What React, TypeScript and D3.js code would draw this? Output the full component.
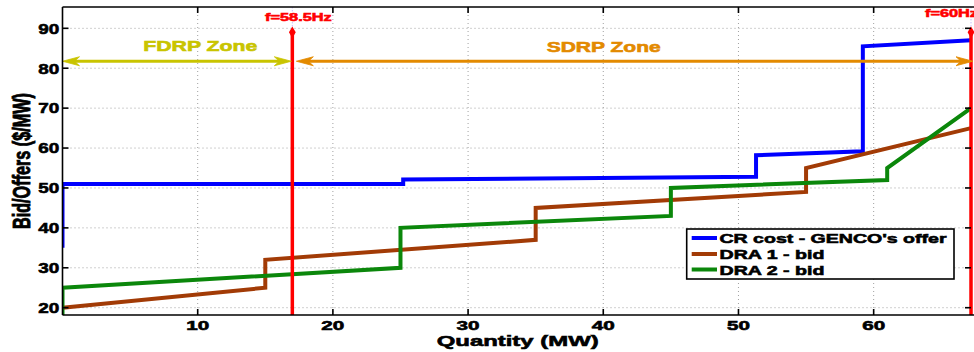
import React from "react";
import * as d3 from "d3";

// Supply / demand bid curves (quantity in MW, price in $/MW)
const crQty = [0, 0, 25.2, 25.2, 51.3, 51.3, 59.2, 59.2, 67.2];
const crPrice = [35, 51, 51, 52.1, 52.8, 58.2, 59.2, 85.5, 87];
const dra1Qty = [0, 15, 15, 35, 35, 55, 55, 67.2];
const dra1Price = [20, 25, 32, 37, 45, 49, 55, 65];
const dra2Qty = [0, 0, 25, 25, 45, 45, 61, 61, 67.2];
const dra2Price = [18.2, 25, 30, 40, 43, 50, 52, 55, 70];

const xTicks = [10, 20, 30, 40, 50, 60];
const yTicks = [20, 30, 40, 50, 60, 70, 80, 90];
const xDomain = [0, 67.2];
const yDomain = [18.17, 95.34];

// Frequency markers and response zones
const freqQty = [17, 67.2];
const freqLabels = ["f=58.5Hz", "f=60Hz"];
const freqTop = 89;
const zoneLevel = 81.75;

const seriesNames = ["CR cost - GENCO's offer", "DRA 1 - bid", "DRA 2 - bid"];
const seriesColors = ["#0000ff", "#a23b06", "#0b870b"];

const W = 974;
const H = 352;
const left = 62.5;
const right = 971;
const top = 7;
const bottom = 315;

const FONT = "'Liberation Sans', Arial, sans-serif";

function arrowHead(tipX: number, tipY: number, dir: number, color: string, key: string) {
  // MATLAB-style "vback2" head: pointed tip with a notched back
  const len = 17;
  const half = 4.5;
  const notch = 5;
  const bx = tipX - dir * len;
  const nx = tipX - dir * (len - notch);
  const d = `M${tipX},${tipY} L${bx},${tipY - half} L${nx},${tipY} L${bx},${tipY + half} Z`;
  return <path key={key} d={d} fill={color} stroke={color} strokeWidth={0.8} />;
}

export default function App() {
  const x = d3.scaleLinear().domain(xDomain).range([left, right]);
  const y = d3.scaleLinear().domain(yDomain).range([bottom, top]);

  const line = d3
    .line<[number, number]>()
    .x((d) => x(d[0]))
    .y((d) => y(d[1]));

  const series = [
    crQty.map((q, i) => [q, crPrice[i]] as [number, number]),
    dra1Qty.map((q, i) => [q, dra1Price[i]] as [number, number]),
    dra2Qty.map((q, i) => [q, dra2Price[i]] as [number, number]),
  ];

  const zy = y(zoneLevel);
  const fdrpL = x(0);
  const fdrpR = x(freqQty[0]) - 1;
  const sdrpL = x(freqQty[0]) + 4;
  const sdrpR = W - 1;

  const yellow = "#c9c400";
  const orange = "#e38a00";
  const red = "#ff0000";

  return (
    <svg width={W} height={H} style={{ position: "absolute", left: 0, top: 0, background: "#fff" }}>
      <defs>
        <clipPath id="plotClip">
          <rect x={left} y={top} width={W - left} height={bottom - top} />
        </clipPath>
      </defs>
      <rect width={W} height={H} fill="#fff" />

      {/* grid */}
      <g stroke="#a0a0a0" strokeWidth={1} strokeDasharray="1,3">
        {yTicks.map((t) => (
          <line key={"gy" + t} x1={left} x2={right} y1={y(t)} y2={y(t)} />
        ))}
        {xTicks.map((t) => (
          <line key={"gx" + t} x1={x(t)} x2={x(t)} y1={top} y2={bottom} />
        ))}
      </g>

      {/* bid / offer curves */}
      <g clipPath="url(#plotClip)" fill="none" strokeWidth={4} strokeLinejoin="miter">
        {series.map((s, i) => (
          <path key={"s" + i} d={line(s) || ""} stroke={seriesColors[i]} />
        ))}
      </g>

      {/* frequency markers */}
      {freqQty.map((q, i) => (
        <g key={"f" + i}>
          <line
            x1={x(q)}
            x2={x(q)}
            y1={y(freqTop)}
            y2={top}
            stroke="#b49cff"
            strokeWidth={1}
            strokeDasharray="1,2"
          />
          <line x1={x(q)} x2={x(q)} y1={bottom} y2={y(freqTop)} stroke={red} strokeWidth={3.5} />
          <path
            d={d3.symbol(d3.symbolDiamond, 40)() || ""}
            transform={`translate(${x(q)},${y(freqTop)})`}
            fill={red}
          />
        </g>
      ))}

      {/* zone arrows */}
      <line x1={fdrpL + 6} x2={fdrpR - 6} y1={zy} y2={zy} stroke={yellow} strokeWidth={3} />
      {arrowHead(fdrpL, zy, -1, yellow, "a1")}
      {arrowHead(fdrpR, zy, 1, yellow, "a2")}
      <line x1={sdrpL + 6} x2={sdrpR - 6} y1={zy} y2={zy} stroke={orange} strokeWidth={3} />
      {arrowHead(sdrpL, zy, -1, orange, "a3")}
      {arrowHead(sdrpR, zy, 1, orange, "a4")}

      {/* axes box and ticks */}
      <g stroke="#000" strokeWidth={1.6} fill="none">
        <line x1={left} x2={W} y1={top} y2={top} />
        <line x1={left} x2={W} y1={bottom} y2={bottom} />
        <line x1={left} x2={left} y1={top} y2={bottom} />
        {xTicks.map((t) => (
          <g key={"tx" + t}>
            <line x1={x(t)} x2={x(t)} y1={top} y2={top + 6} />
            <line x1={x(t)} x2={x(t)} y1={bottom} y2={bottom - 6} />
          </g>
        ))}
        {yTicks.map((t) => (
          <g key={"ty" + t}>
            <line x1={left} x2={left + 6} y1={y(t)} y2={y(t)} />
            <line x1={right} x2={right - 6} y1={y(t)} y2={y(t)} />
          </g>
        ))}
      </g>

      {/* tick labels */}
      <g fontFamily={FONT} fontWeight="bold" fill="#000" stroke="#000" strokeWidth={0.6}>
        {xTicks.map((t) => (
          <text
            key={"lx" + t}
            x={x(t)}
            y={330}
            fontSize={13.5}
            textAnchor="middle"
            textLength={23}
            lengthAdjust="spacingAndGlyphs"
          >
            {t}
          </text>
        ))}
        {yTicks.map((t) => (
          <text
            key={"ly" + t}
            x={59.3}
            y={y(t) + 5.3}
            fontSize={15}
            textAnchor="end"
            textLength={21}
            lengthAdjust="spacingAndGlyphs"
          >
            {t}
          </text>
        ))}
        <text x={436.7} y={345.5} fontSize={15.5} textLength={162} lengthAdjust="spacingAndGlyphs">
          Quantity (MW)
        </text>
        <text
          transform={`translate(29.5,161) rotate(-90) scale(1,1.45)`}
          fontSize={16}
          textAnchor="middle"
          textLength={136}
          lengthAdjust="spacingAndGlyphs"
        >
          Bid/Offers ($/MW)
        </text>
      </g>

      {/* zone and frequency labels */}
      <g fontFamily={FONT} fontWeight="bold" strokeWidth={0.6}>
        <text x={143.3} y={50.5} fontSize={15} fill={yellow} stroke={yellow} textLength={114} lengthAdjust="spacingAndGlyphs">
          FDRP Zone
        </text>
        <text x={546.7} y={51.5} fontSize={15} fill={orange} stroke={orange} textLength={114} lengthAdjust="spacingAndGlyphs">
          SDRP Zone
        </text>
        <text x={265} y={20.7} fontSize={11.5} fill={red} stroke={red} textLength={66.7} lengthAdjust="spacingAndGlyphs">
          {freqLabels[0]}
        </text>
        <text x={925} y={16.7} fontSize={11.5} fill={red} stroke={red} textLength={53} lengthAdjust="spacingAndGlyphs">
          {freqLabels[1]}
        </text>
      </g>

      {/* legend */}
      <g>
        <rect x={686.7} y={229} width={267.3} height={50} fill="#fff" stroke="#000" strokeWidth={1.6} />
        {seriesNames.map((n, i) => {
          const ly = [238, 254, 269.5][i];
          return (
            <g key={"lg" + i}>
              <line x1={691.7} x2={717} y1={ly} y2={ly} stroke={seriesColors[i]} strokeWidth={4} />
              <text
                x={719.5}
                y={ly + 5.3}
                fontFamily={FONT}
                fontWeight="bold"
                fontSize={13.5}
                stroke="#000"
                strokeWidth={0.6}
                textLength={i === 0 ? 227 : 105}
                lengthAdjust="spacingAndGlyphs"
              >
                {n}
              </text>
            </g>
          );
        })}
      </g>
    </svg>
  );
}
